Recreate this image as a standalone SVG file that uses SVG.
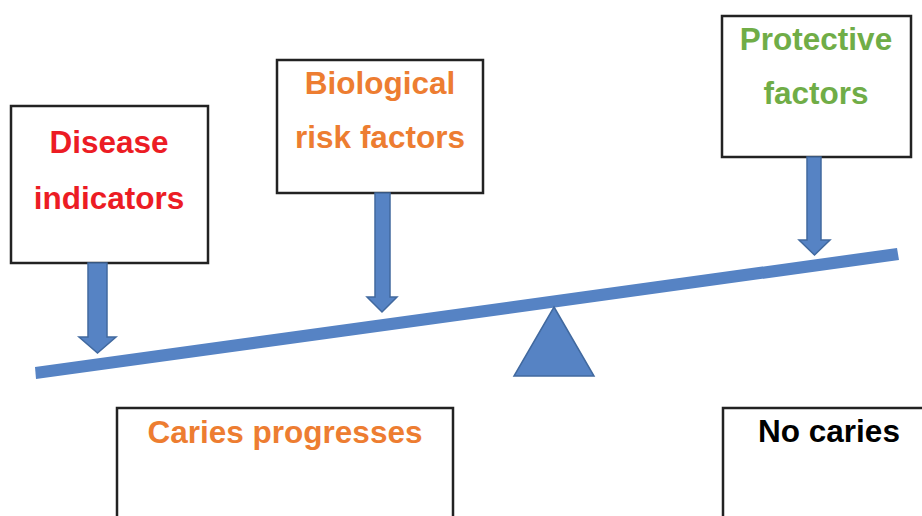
<svg xmlns="http://www.w3.org/2000/svg" width="922" height="516" viewBox="0 0 922 516">
<style>
.box{fill:#fff;stroke:#222;stroke-width:2.5}
.t{font-family:"Liberation Sans",Arial,sans-serif;font-weight:bold;font-size:31.5px;text-anchor:middle}
.arrow{fill:#5683c4;stroke:#41699f;stroke-width:1.5;stroke-linejoin:miter}
</style>
<rect width="922" height="516" fill="#fff"/>
<g id="disease-indicators">
<rect class="box" x="11" y="106" width="197" height="157"/>
<text class="t" x="109" y="153" fill="#ec1c24">Disease</text>
<text class="t" x="109" y="209" fill="#ec1c24">indicators</text>
</g>
<g id="biological-risk-factors">
<rect class="box" x="277" y="60" width="206" height="133"/>
<text class="t" x="380" y="94" fill="#ed7d31">Biological</text>
<text class="t" x="380" y="148" fill="#ed7d31">risk factors</text>
</g>
<g id="protective-factors">
<rect class="box" x="722" y="16" width="189" height="141"/>
<text class="t" x="816" y="50" fill="#70ad47">Protective</text>
<text class="t" x="816" y="104" fill="#70ad47">factors</text>
</g>
<g id="caries-progresses">
<rect class="box" x="117" y="408" width="336" height="120"/>
<text class="t" x="285" y="443" fill="#ed7d31">Caries progresses</text>
</g>
<g id="no-caries">
<rect class="box" x="723" y="408" width="220" height="120"/>
<text class="t" x="829" y="442" fill="#000">No caries</text>
</g>
<g id="seesaw">
<polygon points="35,367 897,248 899,260 36,379" fill="#5683c4"/>
<polygon points="554,307 594,376 514,376" fill="#5683c4" stroke="#41699f" stroke-width="1.5"/>
</g>
<g id="connectors">
<polygon class="arrow" points="88,263 107,263 107,337 116,337 97.5,353 79,337 88,337"/>
<polygon class="arrow" points="375,193 390,193 390,297 397,297 382,312 367,297 375,297"/>
<polygon class="arrow" points="807,157 821,157 821,240 830,240 814.5,255 799,240 807,240"/>
</g>
</svg>
